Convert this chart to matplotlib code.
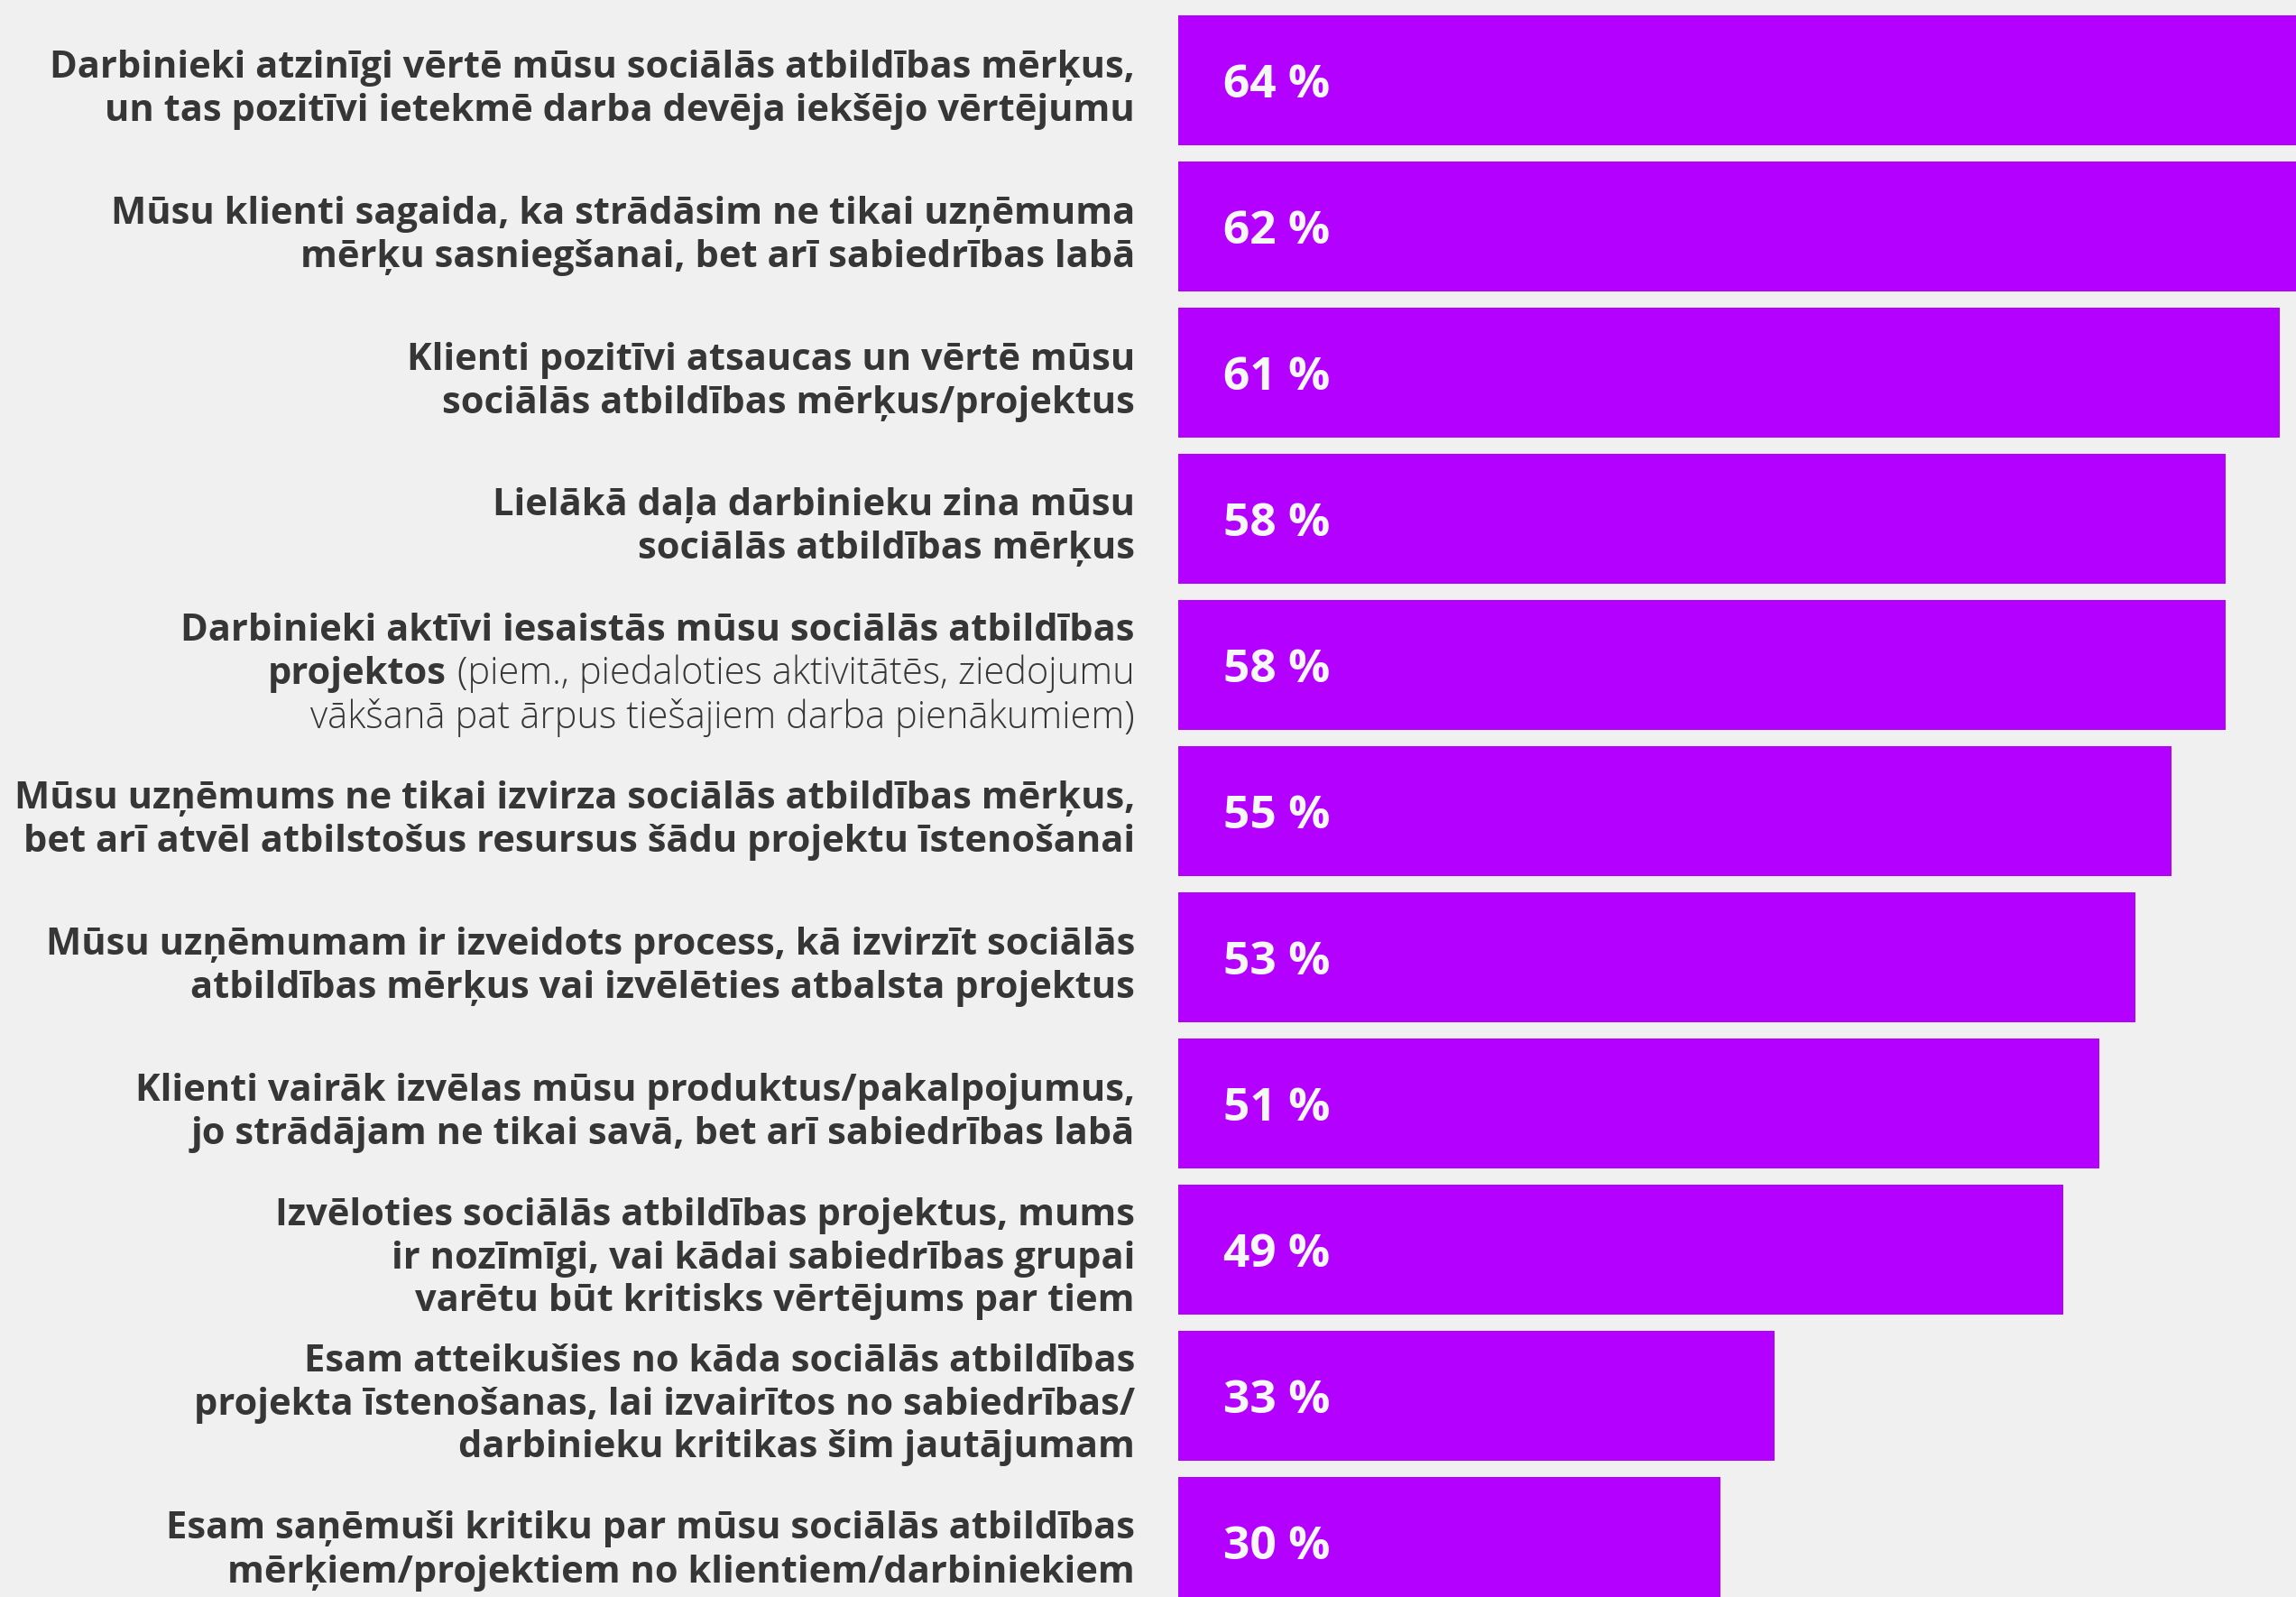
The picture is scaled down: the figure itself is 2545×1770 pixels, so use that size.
import matplotlib
matplotlib.use("Agg")
import matplotlib.pyplot as plt
import numpy as np

# survey statements, top to bottom
labels = [
    "Darbinieki atzinīgi vērtē mūsu sociālās atbildības mērķus,\nun tas pozitīvi ietekmē darba devēja iekšējo vērtējumu",
    "Mūsu klienti sagaida, ka strādāsim ne tikai uzņēmuma\nmērķu sasniegšanai, bet arī sabiedrības labā",
    "Klienti pozitīvi atsaucas un vērtē mūsu\nsociālās atbildības mērķus/projektus",
    "Lielākā daļa darbinieku zina mūsu\nsociālās atbildības mērķus",
    "Darbinieki aktīvi iesaistās mūsu sociālās atbildības\nprojektos (piem., piedaloties aktivitātēs, ziedojumu\nvākšanā pat ārpus tiešajiem darba pienākumiem)",
    "Mūsu uzņēmums ne tikai izvirza sociālās atbildības mērķus,\nbet arī atvēl atbilstošus resursus šādu projektu īstenošanai",
    "Mūsu uzņēmumam ir izveidots process, kā izvirzīt sociālās\natbildības mērķus vai izvēlēties atbalsta projektus",
    "Klienti vairāk izvēlas mūsu produktus/pakalpojumus,\njo strādājam ne tikai savā, bet arī sabiedrības labā",
    "Izvēloties sociālās atbildības projektus, mums\nir nozīmīgi, vai kādai sabiedrības grupai\nvarētu būt kritisks vērtējums par tiem",
    "Esam atteikušies no kāda sociālās atbildības\nprojekta īstenošanas, lai izvairītos no sabiedrības/\ndarbinieku kritikas šim jautājumam",
    "Esam saņēmuši kritiku par mūsu sociālās atbildības\nmērķiem/projektiem no klientiem/darbiniekiem",
]
values = [64, 62, 61, 58, 58, 55, 53, 51, 49, 33, 30]

# everything from this marker onwards is set in a light weight
LIGHT_FROM = "(piem."

BG = "#f0f0f0"
BAR = "#b400ff"
TEXT = "#363636"
FAMILY = ["Open Sans", "DejaVu Sans"]

W, H = 2545, 1770
PX_PER_PCT = 20.02
ZERO_PX = 1306
PITCH_PX = 162

fig = plt.figure(figsize=(W / 100, H / 100), dpi=100, facecolor=BG)
ax = fig.add_axes([0, 0, 1, 1])
ax.set_facecolor(BG)

pos = np.arange(len(values))
ax.barh(pos, values, height=144 / PITCH_PX, color=BAR, linewidth=0)
ax.set_xlim(-ZERO_PX / PX_PER_PCT, (W - ZERO_PX) / PX_PER_PCT)
ax.set_ylim((H - 89) / PITCH_PX, -89 / PITCH_PX)
ax.axis("off")

label_x = -48 / PX_PER_PCT
line_step = 48 / PITCH_PX
label_shift = 10 / PITCH_PX
value_shift = 6 / PITCH_PX

for i, (label, v) in enumerate(zip(labels, values)):
    ax.text(2.5, i + value_shift, f"{v} %", ha="left", va="center", color="#f7f7f7",
            fontsize=37, fontweight="bold", family=FAMILY)

    lines = label.split("\n")
    light = False
    for k, line in enumerate(lines):
        y = i + label_shift + (k - (len(lines) - 1) / 2) * line_step
        if light:
            head, tail = "", line
        elif LIGHT_FROM in line:
            cut = line.index(LIGHT_FROM)
            head, tail = line[:cut].rstrip(), line[cut:]
            light = True
        else:
            head, tail = line, ""

        anchor = None
        if tail:
            anchor = ax.text(label_x, y, tail, ha="right", va="center", color=TEXT,
                             fontsize=30, fontweight="light", family=FAMILY)
        if head and anchor is None:
            ax.text(label_x, y, head, ha="right", va="center", color=TEXT,
                    fontsize=30, fontweight="bold", family=FAMILY)
        elif head:
            ax.annotate(head, xy=(0, 0.5), xycoords=anchor, xytext=(-12, 0),
                        textcoords="offset pixels", ha="right", va="center",
                        color=TEXT, fontsize=30, fontweight="bold", family=FAMILY)

fig.savefig("out.png", dpi=100, facecolor=BG)
